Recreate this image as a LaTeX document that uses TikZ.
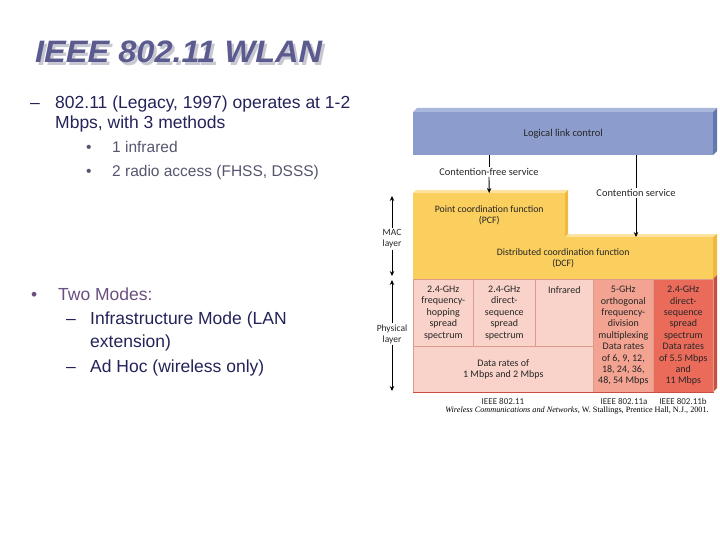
\documentclass[tikz,border=0pt]{standalone}
\usepackage{fontspec}
\setmainfont{Liberation Sans}
\newfontfamily\dgfont{Carlito}
\newfontfamily\refserif{Liberation Serif}
\usetikzlibrary{arrows.meta}
\definecolor{titlec}{HTML}{5B5B8F}
\definecolor{shadowc}{HTML}{C8C8D2}
\definecolor{maintext}{HTML}{23235A}
\definecolor{subtext}{HTML}{55556E}
\definecolor{modec}{HTML}{6A4F80}
\definecolor{llcfill}{HTML}{8C9DCD}
\definecolor{llctop}{HTML}{AAB7DD}
\definecolor{llcside}{HTML}{6577AE}
\definecolor{yel}{HTML}{FBCF5E}
\definecolor{yeltop}{HTML}{FDE2A0}
\definecolor{yelside}{HTML}{EFB93E}
\definecolor{pinkc}{HTML}{F9D3C9}
\definecolor{salmon}{HTML}{F2A391}
\definecolor{redc}{HTML}{EB6B5B}
\definecolor{cellline}{HTML}{DE9A8A}
\definecolor{redside}{HTML}{C9503F}
\newcommand\ttlword{\fontsize{31}{31}\selectfont\bfseries\itshape IEEE 802.11 WLAN}
\tikzset{
  big/.style={font=\fontsize{17.5}{17.5}\selectfont, anchor=base west},
  small/.style={font=\fontsize{15.5}{15.5}\selectfont, anchor=base west, text=subtext},
  blk/.style={inner sep=0pt, anchor=north west, font=\dgfont\fontsize{9.8}{11.5}\selectfont, align=center, text=black!85},
  cell/.style={inner sep=0pt, anchor=north west, font=\dgfont\fontsize{10}{11.4}\selectfont, align=center, text=black!85, draw=cellline, line width=0.6pt},
  dlabel/.style={font=\dgfont\fontsize{9}{10.5}\selectfont, align=center, text=black!85, inner sep=1pt},
  arr/.style={line width=0.9pt, -{Stealth[length=5pt,width=4.5pt]}}
}
\begin{document}
\begin{tikzpicture}[x=1pt,y=-1pt]
\useasboundingbox (0,0) rectangle (720,540);
% ---------- left text ----------
\node[anchor=base west, inner sep=0pt] (title) at (35,63)
  {\scalebox{1.05}[1]{\rlap{\hspace{2.5pt}\raisebox{-2.5pt}{\color{shadowc}\ttlword}}\color{titlec}\ttlword}};

\node[big, text=maintext, inner sep=0pt] (d1) at (30,109) {–};
\node[big, text=maintext, inner sep=0pt] (l1) at (55,109) {802.11 (Legacy, 1997) operates at 1-2};
\node[big, text=maintext, inner sep=0pt] (l2) at (55,129) {Mbps, with 3 methods};
\node[small, inner sep=0pt] (b1) at (86,152.5) {•};
\node[small, inner sep=0pt] (s1) at (112,152.5) {1 infrared};
\node[small, inner sep=0pt] (b2) at (86,176.5) {•};
\node[small, inner sep=0pt] (s2) at (112,176.5) {2 radio access (FHSS, DSSS)};

\node[big, text=modec, inner sep=0pt] (b3) at (31,300) {•};
\node[big, text=modec, inner sep=0pt] (m0) at (58,300) {Two Modes:};
\node[big, text=maintext, inner sep=0pt] (d2) at (66,324) {–};
\node[big, text=maintext, inner sep=0pt] (m1) at (90,324) {Infrastructure Mode (LAN};
\node[big, text=maintext, inner sep=0pt] (m2) at (90,347) {extension)};
\node[big, text=maintext, inner sep=0pt] (d3) at (66,372) {–};
\node[big, text=maintext, inner sep=0pt] (m3) at (90,372) {Ad Hoc (wireless only)};

% ---------- diagram ----------
% LLC
\fill[llctop] (413,112) -- (417,108) -- (717,108) -- (713,112) -- cycle;
\fill[llcside] (713,112) -- (717,108) -- (717,151) -- (713,155) -- cycle;
\node[blk, fill=llcfill, minimum width=300pt, minimum height=43pt, font=\dgfont\fontsize{10.5}{12}\selectfont] (llc) at (413,112) {Logical link control};
% PCF
\fill[yeltop] (413,193) -- (416,190) -- (568,190) -- (565,193) -- cycle;
\fill[yelside] (565,193) -- (568,190) -- (568,237) -- (565,237) -- cycle;
\node[blk, fill=yel, minimum width=152pt, minimum height=44pt] (pcf) at (413,193) {Point coordination function\\(PCF)};
% DCF
\fill[yeltop] (565,237) -- (568,234) -- (717,234) -- (713,237) -- cycle;
\fill[yelside] (713,237) -- (717,234) -- (717,275) -- (713,279) -- cycle;
\node[blk, fill=yel, minimum width=300pt, minimum height=42pt] (dcf) at (413,237) {Distributed coordination function\\(DCF)};
% physical cells
\fill[redside] (713,279) -- (717,275) -- (717,388) -- (713,392) -- cycle;
\node[cell, fill=pinkc, minimum width=60pt, minimum height=67pt] (c1) at (413,279) {2.4-GHz\\frequency-\\hopping\\spread\\spectrum};
\node[cell, fill=pinkc, minimum width=62pt, minimum height=67pt] (c2) at (473,279) {2.4-GHz\\direct-\\sequence\\spread\\spectrum};
\node[cell, fill=pinkc, minimum width=58pt, minimum height=67pt] (c3) at (535,279) {};
\node[dlabel, anchor=north] (c3t) at (c3.north |- 0,285) {\fontsize{10}{11.4}\selectfont Infrared};
\node[cell, fill=pinkc, minimum width=180pt, minimum height=46pt] (c6) at (413,346) {Data rates of\\1 Mbps and 2 Mbps};
\node[cell, fill=salmon, minimum width=60pt, minimum height=113pt] (c4) at (593,279) {5-GHz\\orthogonal\\frequency-\\division\\multiplexing\\Data rates\\of 6, 9, 12,\\18, 24, 36,\\48, 54 Mbps};
\node[cell, fill=redc, minimum width=60pt, minimum height=113pt] (c5) at (653,279) {2.4-GHz\\direct-\\sequence\\spread\\spectrum\\Data rates\\of 5.5 Mbps\\and\\11 Mbps};
\draw[redside, line width=1pt] (c6.south west) -- (c5.south east);

% contention arrows
\node[dlabel, fill=white, font=\dgfont\fontsize{10.4}{12}\selectfont] (cfs) at (489,172) {Contention-free service};
\draw[line width=0.9pt] (llc.south -| cfs) -- (cfs.north);
\draw[arr] (cfs.south) -- (pcf.north);
\coordinate (csx) at (636,237);
\node[dlabel, fill=white, font=\dgfont\fontsize{10.4}{12}\selectfont] (cs) at (636,193) {Contention service};
\draw[line width=0.9pt] (llc.south -| cs) -- (cs.north);
\draw[arr] (cs.south) -- (dcf.north -| csx);

% layer arrows
\coordinate (mact) at (392,196);
\coordinate (macb) at (392,276);
\coordinate (phyt) at (392,280);
\coordinate (phyb) at (392,391);
\node[dlabel, font=\dgfont\fontsize{9.5}{11}\selectfont] (mac) at (392,239) {MAC\\layer};
\node[dlabel, font=\dgfont\fontsize{9.5}{11}\selectfont] (phy) at (392,334) {Physical\\layer};
\draw[arr] (mac.north) -- (mact);
\draw[arr] (mac.south) -- (macb);
\draw[arr] (phy.north) -- (phyt);
\draw[arr] (phy.south) -- (phyb);

% standards labels
\node[dlabel] (std0) at (503,401) {IEEE 802.11};
\node[dlabel] (std1) at (624,401) {IEEE 802.11a};
\node[dlabel] (std2) at (683,401) {IEEE 802.11b};
\node[inner sep=0pt, font=\refserif\fontsize{8.2}{9}\selectfont] (ref) at (577,411)
  {\textit{Wireless Communications and Networks}, W. Stallings, Prentice Hall, N.J., 2001.};
\end{tikzpicture}
\end{document}
